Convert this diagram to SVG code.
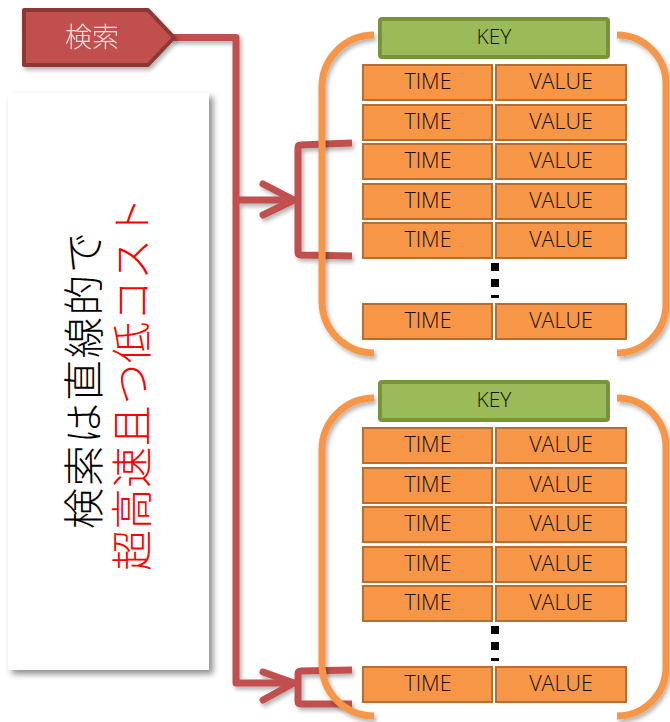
<svg xmlns="http://www.w3.org/2000/svg" width="670" height="722" viewBox="0 0 670 722">
  <defs>
    <filter id="sh" x="-20%" y="-20%" width="140%" height="140%">
      <feDropShadow dx="4" dy="4" stdDeviation="3" flood-color="#000" flood-opacity="0.45"/>
    </filter>
    <filter id="sh2" x="-20%" y="-20%" width="140%" height="140%">
      <feDropShadow dx="2" dy="3" stdDeviation="2" flood-color="#000" flood-opacity="0.3"/>
    </filter>
  </defs>
  <style>
    .red { fill: none; stroke: #C0504D; stroke-width: 7; stroke-linejoin: round; stroke-linecap: butt; }
    .arm { fill: none; stroke: #C0504D; stroke-width: 7; stroke-linejoin: round; stroke-linecap: round; }
    .ob { fill: none; stroke: #F79646; stroke-width: 7; }
    .key { fill: #9BBB59; stroke: #77933C; stroke-width: 4; }
    .cell { fill: #F79646; stroke: #B66D31; stroke-width: 2; }
    .t { font-family: "Open Sans", "Noto Sans", "Liberation Sans", sans-serif; font-size: 21.5px; font-weight: 300; fill: #111; text-anchor: middle; }
    .k { font-family: "Open Sans", "Noto Sans", "Liberation Sans", sans-serif; font-size: 21px; font-weight: 300; fill: #111; text-anchor: middle; }
    .jp { font-family: "Noto Sans CJK JP", "Noto Sans", sans-serif; font-size: 41px; font-weight: 300; }
    .dot { fill: #000; }
  </style>

  <g id="panel">
    <rect x="8" y="93" width="201" height="577" fill="#fff" filter="url(#sh)"/>
    <text class="jp" fill="#000" transform="translate(99,529) rotate(-90)" textLength="297" lengthAdjust="spacing">検索は直線的で</text>
    <text class="jp" fill="#FF0000" transform="translate(147,571) rotate(-90)" textLength="374" lengthAdjust="spacing">超高速且つ低コスト</text>
  </g>

  <g id="connectors" filter="url(#sh2)">
    <path class="red" d="M172,37.5 H236 V683 H292"/>
    <path class="arm" d="M263,672 L294,683 L263,700"/>
    <path class="red" d="M236,200 H292"/>
    <path class="arm" d="M263,184 L294,200 L263,215"/>
    <path class="red" d="M352,143 L300,145 Q298,145 298,148 V252 Q298,255 301,255 L352,256"/>
    <path class="red" d="M352,670 L301,671 Q298,671 298,674 V701 Q298,704 301,704 L352,704"/>
  </g>

  <g id="search" filter="url(#sh2)">
    <polygon points="24,10 148,10 174,37.5 148,65 24,65" fill="#C0504D" stroke="#8C3836" stroke-width="4" stroke-linejoin="round"/>
    <text x="92" y="47" font-family="Noto Sans CJK JP, sans-serif" font-size="27" font-weight="300" fill="#F2DCDB" text-anchor="middle">検索</text>
  </g>

  <g id="group1">
    <path class="ob" filter="url(#sh2)" d="M374,35 A52,52 0 0 0 322,87 V301 A52,52 0 0 0 374,353"/>
    <path class="ob" filter="url(#sh2)" d="M617,35 A49,49 0 0 1 666,84 V304 A49,49 0 0 1 617,353"/>
    <rect class="key" x="380" y="19" width="228" height="38" rx="2"/>
    <text class="k" x="494" y="44">KEY</text>
    <g id="g1r1"><rect class="cell" x="363" y="65" width="129" height="35"/><rect class="cell" x="496" y="65" width="130" height="35"/><text class="t" x="428" y="89">TIME</text><text class="t" x="561" y="89">VALUE</text></g>
    <g id="g1r2"><rect class="cell" x="363" y="105" width="129" height="35"/><rect class="cell" x="496" y="105" width="130" height="35"/><text class="t" x="428" y="129">TIME</text><text class="t" x="561" y="129">VALUE</text></g>
    <g id="g1r3"><rect class="cell" x="363" y="144" width="129" height="35"/><rect class="cell" x="496" y="144" width="130" height="35"/><text class="t" x="428" y="168">TIME</text><text class="t" x="561" y="168">VALUE</text></g>
    <g id="g1r4"><rect class="cell" x="363" y="184" width="129" height="35"/><rect class="cell" x="496" y="184" width="130" height="35"/><text class="t" x="428" y="208">TIME</text><text class="t" x="561" y="208">VALUE</text></g>
    <g id="g1r5"><rect class="cell" x="363" y="223" width="129" height="35"/><rect class="cell" x="496" y="223" width="130" height="35"/><text class="t" x="428" y="247">TIME</text><text class="t" x="561" y="247">VALUE</text></g>
    <rect class="dot" x="491" y="263" width="8" height="8"/>
    <rect class="dot" x="491" y="279" width="8" height="8"/>
    <rect class="dot" x="491" y="295" width="8" height="3"/>
    <g id="g1r6"><rect class="cell" x="363" y="304" width="129" height="35"/><rect class="cell" x="496" y="304" width="130" height="35"/><text class="t" x="428" y="328">TIME</text><text class="t" x="561" y="328">VALUE</text></g>
  </g>

  <g id="group2">
    <path class="ob" filter="url(#sh2)" d="M374,398 A52,52 0 0 0 322,450 V664 A52,52 0 0 0 374,716"/>
    <path class="ob" filter="url(#sh2)" d="M617,398 A49,49 0 0 1 666,447 V667 A49,49 0 0 1 617,716"/>
    <rect class="key" x="380" y="382" width="228" height="38" rx="2"/>
    <text class="k" x="494" y="407">KEY</text>
    <g id="g2r1"><rect class="cell" x="363" y="428" width="129" height="35"/><rect class="cell" x="496" y="428" width="130" height="35"/><text class="t" x="428" y="452">TIME</text><text class="t" x="561" y="452">VALUE</text></g>
    <g id="g2r2"><rect class="cell" x="363" y="468" width="129" height="35"/><rect class="cell" x="496" y="468" width="130" height="35"/><text class="t" x="428" y="492">TIME</text><text class="t" x="561" y="492">VALUE</text></g>
    <g id="g2r3"><rect class="cell" x="363" y="507" width="129" height="35"/><rect class="cell" x="496" y="507" width="130" height="35"/><text class="t" x="428" y="531">TIME</text><text class="t" x="561" y="531">VALUE</text></g>
    <g id="g2r4"><rect class="cell" x="363" y="547" width="129" height="35"/><rect class="cell" x="496" y="547" width="130" height="35"/><text class="t" x="428" y="571">TIME</text><text class="t" x="561" y="571">VALUE</text></g>
    <g id="g2r5"><rect class="cell" x="363" y="586" width="129" height="35"/><rect class="cell" x="496" y="586" width="130" height="35"/><text class="t" x="428" y="610">TIME</text><text class="t" x="561" y="610">VALUE</text></g>
    <rect class="dot" x="491" y="626" width="8" height="8"/>
    <rect class="dot" x="491" y="642" width="8" height="8"/>
    <rect class="dot" x="491" y="658" width="8" height="3"/>
    <g id="g2r6"><rect class="cell" x="363" y="667" width="129" height="35"/><rect class="cell" x="496" y="667" width="130" height="35"/><text class="t" x="428" y="691">TIME</text><text class="t" x="561" y="691">VALUE</text></g>
  </g>
</svg>
